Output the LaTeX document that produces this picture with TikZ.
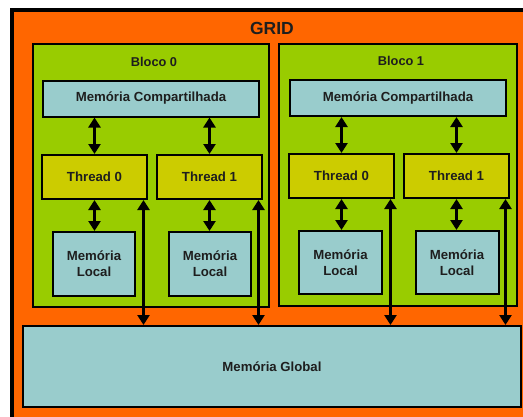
\documentclass[tikz,border=0pt]{standalone}
\usepackage{fontspec}
\setmainfont{Liberation Sans}
\usetikzlibrary{arrows.meta}
\definecolor{gridorange}{RGB}{255,102,0}
\definecolor{blockgreen}{RGB}{153,204,0}
\definecolor{memblue}{RGB}{153,204,204}
\definecolor{threadyellow}{RGB}{204,204,0}
\definecolor{txt}{RGB}{30,30,30}
\tikzset{
  box/.style={draw=black, line width=2pt, inner sep=0pt, text=txt,
    font=\bfseries\fontsize{13.2}{16}\selectfont, align=center},
  blockbox/.style={box, fill=blockgreen, minimum width=#1, minimum height=263pt},
  memshared/.style={box, fill=memblue, minimum width=216pt, minimum height=36pt},
  threadbox/.style={box, fill=threadyellow, minimum width=105pt, minimum height=44pt},
  memlocal/.style={box, fill=memblue, minimum width=82pt, minimum height=64pt},
  memglobal/.style={box, fill=memblue, minimum width=498pt, minimum height=81pt},
  link/.style={line width=3.3pt, {Triangle[width=12pt,length=10pt]}-{Triangle[width=12pt,length=10pt]}},
  lbl/.style={text=txt, font=\bfseries\fontsize{12.8}{15}\selectfont}
}
\begin{document}
\begin{tikzpicture}[x=1pt,y=-1pt]
  \useasboundingbox (0,0) rectangle (523,416);
  \fill[white] (0,0) rectangle (523,416);
  \clip (0,0) rectangle (523,416);

  % grid frame (runs past the right and bottom edges)
  \draw[line width=4pt, fill=gridorange] (12,10) rectangle (560,450);
  \node[text=txt, font=\bfseries\fontsize{17.5}{20}\selectfont] (gridlbl) at (272,28.5) {GRID};

  % blocks
  \node[blockbox=236pt] (b0) at (151,175.5) {};
  \node[blockbox=238pt, minimum height=262pt] (b1) at (398,175) {};
  \node[lbl] (b0lbl) at (154,62) {Bloco 0};
  \node[lbl] (b1lbl) at (401,61) {Bloco 1};

  % shared memories
  \node[memshared] (s0) at (151,98.5) {Memória Compartilhada};
  \node[memshared] (s1) at (398,98) {Memória Compartilhada};

  % threads
  \node[threadbox] (t00) at (94.5,177) {Thread 0};
  \node[threadbox] (t01) at (209.5,177) {Thread 1};
  \node[threadbox] (t10) at (341.5,176) {Thread 0};
  \node[threadbox] (t11) at (456.5,176) {Thread 1};

  % local memories
  \node[memlocal] (l00) at (94,264) {Memória\\Local};
  \node[memlocal] (l01) at (210,264) {Memória\\Local};
  \node[memlocal, minimum width=83pt, minimum height=63pt] (l10) at (340.5,262.5) {Memória\\Local};
  \node[memlocal, minimum width=83pt, minimum height=63pt] (l11) at (457,262.5) {Memória\\Local};

  % global memory
  \node[memglobal] (g) at (272,366.5) {Memória Global};

  % shared <-> thread
  \foreach \s/\t in {s0/t00, s0/t01, s1/t10, s1/t11}
    \draw[link] (\s.south -| \t) -- (\t.north);
  % thread <-> local
  \foreach \t/\l in {t00/l00, t01/l01, t10/l10, t11/l11}
    \draw[link] (\t.south) -- (\t.south |- \l.north);
  % thread <-> global
  \foreach \t in {t00, t01, t10, t11}
    \draw[link] ([xshift=-4.5pt]\t.south east) -- ([xshift=-4.5pt]\t.south east |- g.north);
\end{tikzpicture}
\end{document}
